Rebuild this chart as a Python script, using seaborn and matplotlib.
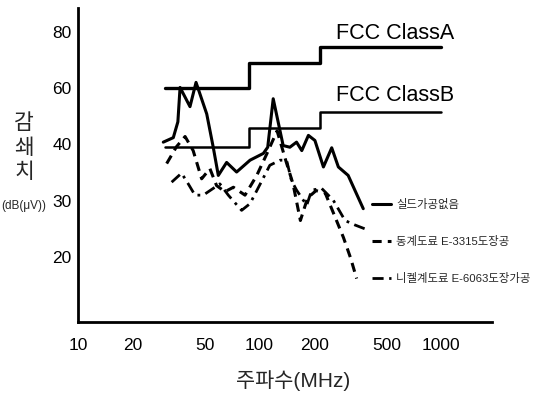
import numpy as np
import pandas as pd
import matplotlib
matplotlib.use('Agg')
import matplotlib.pyplot as plt
import seaborn as sns

# ---- data (frequency MHz, level dB) ----
freq_none = [29.5, 33.5, 35.5, 36.5, 41.4, 44.7, 51.2, 55.6, 59.3, 65.9, 74.8, 88.7, 105, 111,
             119, 135, 147, 160, 171, 186, 202, 225, 250, 272, 308, 373]
db_none = [40.8, 42.4, 48.0, 60.2, 53.4, 62.0, 50.8, 39.5, 34.5, 36.8, 35.1, 37.2, 38.4, 39.5,
           56.2, 39.8, 39.5, 40.8, 38.9, 43.2, 41.4, 36.0, 39.4, 36.0, 34.5, 28.6]

freq_cu = [30.8, 34.9, 38.9, 43.1, 48.0, 53.3, 58.0, 64.5, 71.8, 83.2, 96.6, 110, 125, 140,
           153, 168, 184, 205, 230, 258, 290, 318, 343]
db_cu = [36.6, 39.6, 42.8, 38.9, 33.9, 35.7, 32.7, 31.6, 32.4, 31.0, 34.5, 38.4, 44.8, 37.0,
         33.0, 26.5, 30.5, 31.8, 31.4, 27.5, 23.5, 19.8, 16.2]

freq_ni = [32.8, 37.2, 40.5, 44.1, 49.0, 55.6, 60.5, 67.3, 79.7, 88.7, 101, 114, 130, 141,
           150, 160, 182, 194, 220, 255, 296, 336, 397]
db_ni = [33.3, 34.9, 33.0, 31.0, 31.0, 32.2, 33.0, 31.0, 28.3, 29.5, 33.0, 36.3, 37.2, 37.2,
         33.6, 31.9, 29.2, 31.9, 32.2, 30.1, 26.5, 25.7, 24.8]

fcc_freq = [30, 88, 216, 1000]
fcc_a = [60, 69, 74.4, 74.4]
fcc_b = [39.6, 45.8, 51.4, 51.4]

series_labels = ['실드가공없음', '동계도료 E-3315도장공', '니켈계도료 E-6063도장가공']
x_ticks = [10, 20, 50, 100, 200, 500, 1000]
y_ticks = [20, 30, 40, 60, 80]

# ---- style ----
sns.set_theme(style='white')
plt.rcParams['font.family'] = ['Liberation Sans', 'Noto Sans CJK KR', 'DejaVu Sans']
plt.rcParams['axes.unicode_minus'] = False

fig = plt.figure(figsize=(5.41, 3.93), dpi=100)
ax = fig.add_axes([0.1442, 0.1807, 0.7652, 0.799])

def fwd(v):
    return np.interp(v, [-200, 40, 300], [-200, 40, 170])

def inv(p):
    return np.interp(p, [-200, 40, 170], [-200, 40, 300])

ax.set_xscale('log')
ax.set_yscale('function', functions=(fwd, inv))

df_a = pd.DataFrame({'f': fcc_freq, 'v': fcc_a})
df_b = pd.DataFrame({'f': fcc_freq, 'v': fcc_b})
sns.lineplot(data=df_a, x='f', y='v', ax=ax, color='black', lw=2.4,
             drawstyle='steps-post', legend=False)
sns.lineplot(data=df_b, x='f', y='v', ax=ax, color='black', lw=1.8,
             drawstyle='steps-post', legend=False)

sns.lineplot(x=freq_none, y=db_none, ax=ax, color='black', lw=2.2,
             label=series_labels[0])
sns.lineplot(x=freq_cu, y=db_cu, ax=ax, color='black', lw=2.2,
             linestyle=(0, (3, 2)), label=series_labels[1])
sns.lineplot(x=freq_ni, y=db_ni, ax=ax, color='black', lw=2.0,
             linestyle=(0, (4, 2, 1, 2)), label=series_labels[2])

ax.set_xlim(10, 1910)
ax.set_ylim(8.5, 88.4)
ax.set_xticks(x_ticks)
ax.set_xticklabels([str(t) for t in x_ticks])
ax.xaxis.set_minor_locator(matplotlib.ticker.NullLocator())
ax.set_yticks(y_ticks)
ax.set_yticklabels([str(t) for t in y_ticks])
ax.yaxis.set_minor_locator(matplotlib.ticker.NullLocator())
ax.tick_params(axis='both', labelsize=12.5, colors='black', direction='inout',
               length=5, width=1.2)
ax.tick_params(axis='x', pad=9)
ax.tick_params(axis='y', pad=2)

for s in ['top', 'right']:
    ax.spines[s].set_visible(False)
for s in ['left', 'bottom']:
    ax.spines[s].set_color('black')
    ax.spines[s].set_linewidth(2)

ax.text(264, 79.2, 'FCC ClassA', fontsize=15.5, va='center', ha='left', color='black')
ax.text(264, 57.4, 'FCC ClassB', fontsize=15.5, va='center', ha='left', color='black')

ax.set_xlabel('')
ax.set_ylabel('')
fig.text(293 / 541, 1 - 381 / 393, '주파수(MHz)', fontsize=15, ha='center', va='center')
fig.text(24 / 541, 1 - 148 / 393, '감\n쇄\n치', fontsize=15.5, ha='center', va='center',
         linespacing=1.2)
fig.text(24 / 541, 1 - 206 / 393, '(dB(μV))', fontsize=8.5, ha='center', va='center')

handles = [l for l in ax.get_lines() if l.get_label() in series_labels]
leg = ax.legend(handles=handles, labels=series_labels, loc='upper left',
                bbox_to_anchor=(372 / 541, 1 - 199 / 393), bbox_transform=fig.transFigure,
                frameon=False, fontsize=8.2, handlelength=1.7, handletextpad=0.4,
                labelspacing=2.3, borderpad=0, borderaxespad=0)

fig.savefig('out.png', dpi=100, facecolor='white')
